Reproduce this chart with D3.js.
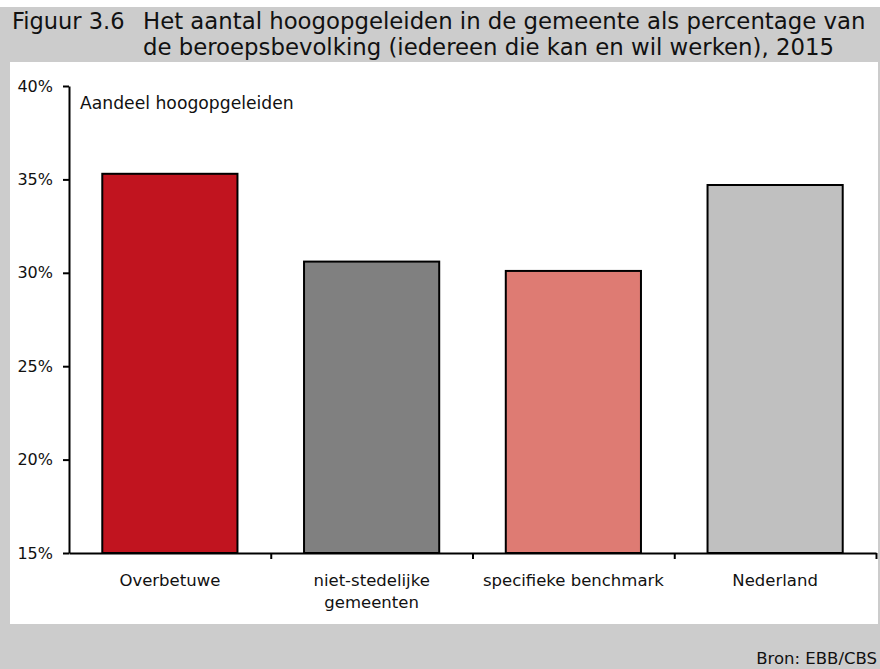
<!DOCTYPE html>
<html lang="nl">
<head>
  <meta charset="UTF-8">
  <title>Figuur 3.6</title>
  <script src="https://d3js.org/d3.v7.min.js"></script>
  <style>
    body {
      margin: 0;
      background: #cccccc;
      font-family: "DejaVu Sans", sans-serif;
    }
    svg text { fill: #111; }
  </style>
</head>
<body>
  <div id="chart"></div>
  <script>
    const categories = [["Overbetuwe"], ["niet-stedelijke", "gemeenten"], ["specifieke benchmark"], ["Nederland"]];
    const values = [35.3, 30.6, 30.1, 34.7];
    const colors = ["#c1141f", "#808080", "#de7b73", "#c0c0c0"];
    const yTicks = [15, 20, 25, 30, 35, 40];
    const titleLines = ["Het aantal hoogopgeleiden in de gemeente als percentage van",
                        "de beroepsbevolking (iedereen die kan en wil werken), 2015"];

    const width = 880, height = 669;
    const margin = { top: 86, right: 4, bottom: 116, left: 69 };
    const font = "DejaVu Sans, sans-serif";

    const svg = d3.select("#chart").append("svg")
      .attr("width", width)
      .attr("height", height)
      .attr("font-family", font);

    // white strip at the top and white panel
    svg.append("rect")
      .attr("x", 0).attr("y", 0)
      .attr("width", width).attr("height", 7)
      .attr("fill", "#fff");
    svg.append("rect")
      .attr("x", 10).attr("y", 62)
      .attr("width", 868).attr("height", 562)
      .attr("fill", "#fff");

    // title
    svg.append("text")
      .attr("x", 12).attr("y", 29)
      .attr("font-size", 22.5)
      .text("Figuur 3.6");
    svg.selectAll(".title")
      .data(titleLines)
      .enter().append("text")
        .attr("x", 143)
        .attr("y", (d, i) => 29 + i * 26)
        .attr("font-size", 22.8)
        .text(d => d);

    const x = d3.scaleBand()
      .domain(d3.range(categories.length))
      .range([margin.left, width - margin.right])
      .paddingInner(0.33)
      .paddingOuter(0.165);

    const y = d3.scaleLinear()
      .domain([15, 40])
      .range([height - margin.bottom, margin.top]);

    svg.append("g")
      .selectAll("rect")
      .data(values)
      .enter().append("rect")
        .attr("x", (d, i) => x(i))
        .attr("y", d => y(d))
        .attr("width", x.bandwidth())
        .attr("height", d => y(15) - y(d))
        .attr("fill", (d, i) => colors[i])
        .attr("stroke", "#000")
        .attr("stroke-width", 2);

    // y axis
    const yAxis = svg.append("g")
      .attr("transform", `translate(${margin.left},0)`)
      .call(d3.axisLeft(y)
        .tickValues(yTicks)
        .tickFormat(d => d + "%")
        .tickSize(6)
        .tickSizeOuter(0));
    yAxis.select(".domain").attr("stroke-width", 2);
    yAxis.selectAll(".tick line").attr("stroke-width", 2);
    yAxis.selectAll("text")
      .attr("x", -16)
      .attr("font-size", 16)
      .attr("font-family", font);

    // x axis with boundary ticks
    const xb = d3.scaleLinear()
      .domain([0, categories.length])
      .range([margin.left, width - margin.right]);
    const xAxis = svg.append("g")
      .attr("transform", `translate(0,${y(15)})`)
      .call(d3.axisBottom(xb)
        .tickValues(d3.range(1, categories.length + 1))
        .tickFormat("")
        .tickSize(6)
        .tickSizeOuter(0));
    xAxis.select(".domain").attr("stroke-width", 2);
    xAxis.selectAll(".tick line").attr("stroke-width", 2);

    // category labels
    svg.append("g")
      .selectAll("text")
      .data(categories)
      .enter().append("text")
        .attr("x", (d, i) => x(i) + x.bandwidth() / 2)
        .attr("y", 586)
        .attr("text-anchor", "middle")
        .attr("font-size", 16.5)
        .selectAll("tspan")
        .data(d => d)
        .enter().append("tspan")
          .attr("x", function () { return this.parentNode.getAttribute("x"); })
          .attr("dy", (d, i) => i === 0 ? 0 : 22)
          .text(d => d);

    svg.append("text")
      .attr("x", 80).attr("y", 109)
      .attr("font-size", 17.2)
      .text("Aandeel hoogopgeleiden");

    svg.append("text")
      .attr("x", 877).attr("y", 664)
      .attr("text-anchor", "end")
      .attr("font-size", 16.5)
      .text("Bron: EBB/CBS");
  </script>
</body>
</html>
